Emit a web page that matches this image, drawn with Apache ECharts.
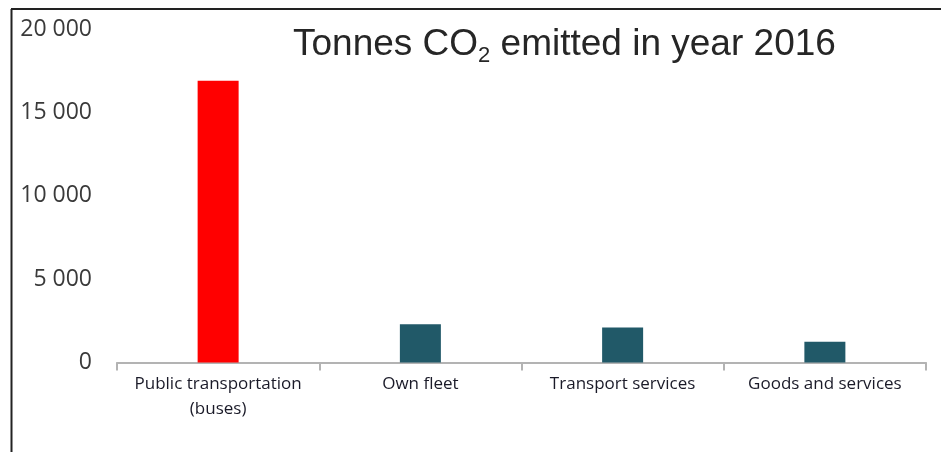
<!DOCTYPE html>
<html>
<head>
<meta charset="utf-8">
<script src="https://cdn.jsdelivr.net/npm/echarts@6/dist/echarts.min.js"></script>
<style>html,body{margin:0;padding:0;background:#fff;}#c{width:941px;height:452px;}</style>
</head>
<body>
<div id="c"></div>
<script>
const categories = ['Public transportation\n(buses)', 'Own fleet', 'Transport services', 'Goods and services'];
const values = [16900, 2300, 2100, 1250];
const barColors = ['#FF0000', '#215968', '#215968', '#215968'];
const yTicks = [0, 5000, 10000, 15000, 20000];

const chart = echarts.init(document.getElementById('c'));
chart.setOption({
  animation: false,
  backgroundColor: '#fff',
  title: {
    left: 288,
    top: 18,
    text: '{a|Tonnes CO}{b|2}{a| emitted in year 2016}',
    textStyle: {
      fontWeight: 'normal',
      rich: {
        a: { fontFamily: 'Liberation Sans', fontWeight: 'normal', fontSize: 37, color: '#262626', lineHeight: 44 },
        b: { fontFamily: 'Liberation Sans', fontWeight: 'normal', fontSize: 22, color: '#262626', lineHeight: 22, verticalAlign: 'bottom' }
      }
    }
  },
  graphic: [
    { type: 'line', shape: { x1: 11.5, y1: 9, x2: 11.5, y2: 452 }, style: { stroke: '#222', lineWidth: 2 } },
    { type: 'line', shape: { x1: 11, y1: 9, x2: 941, y2: 9 }, style: { stroke: '#222', lineWidth: 2 } }
  ],
  grid: { left: 117, right: 15, top: 29, bottom: 89.5, containLabel: false },
  xAxis: {
    type: 'category',
    data: categories,
    axisLine: { lineStyle: { color: '#b3b3b3', width: 2 } },
    axisTick: { show: true, length: 8, lineStyle: { color: '#b3b3b3', width: 2 } },
    axisLabel: {
      margin: 9,
      fontFamily: 'Open Sans',
      fontSize: 17,
      lineHeight: 25,
      color: '#1a1a28',
      interval: 0
    }
  },
  yAxis: {
    type: 'value',
    min: 0,
    max: 20000,
    interval: 5000,
    axisLine: { show: false },
    axisTick: { show: false },
    splitLine: { show: false },
    axisLabel: {
      margin: 25,
      fontFamily: 'Open Sans',
      fontSize: 23,
      color: '#3a3a3a',
      formatter: function (v) {
        return yTicks.indexOf(v) >= 0 ? String(v).replace(/\B(?=(\d{3})+(?!\d))/g, ' ') : '';
      }
    }
  },
  series: [{
    type: 'bar',
    data: values.map((v, i) => ({ value: v, itemStyle: { color: barColors[i] } })),
    barWidth: 41
  }]
});
</script>
</body>
</html>
